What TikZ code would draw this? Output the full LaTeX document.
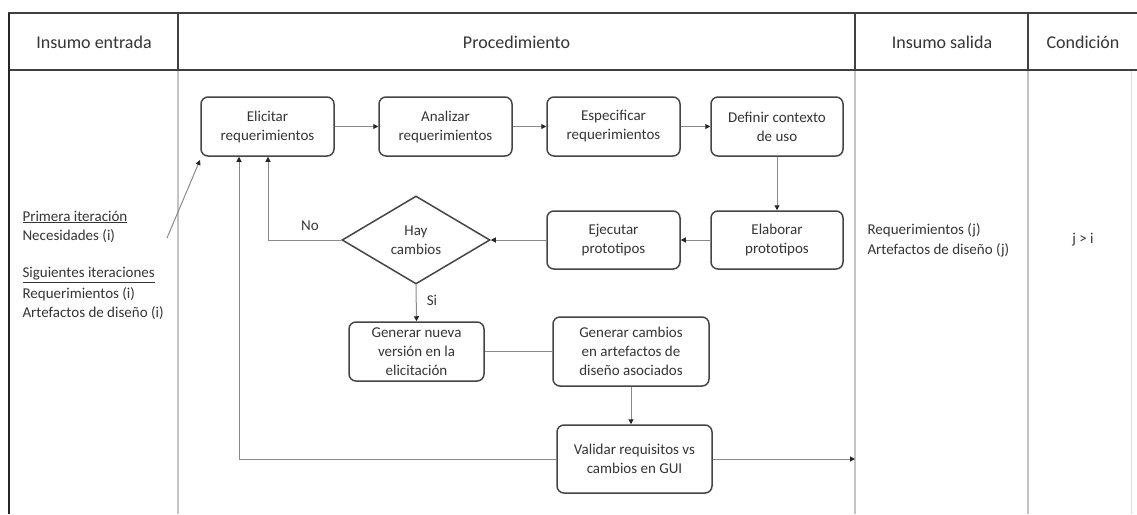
\documentclass[tikz,border=0pt]{standalone}
\usepackage{fontspec}
\setmainfont{Carlito}
\usetikzlibrary{arrows.meta,shapes.geometric}
\definecolor{ink}{HTML}{353535}
\definecolor{boxline}{HTML}{454545}
\definecolor{wire}{HTML}{8A8A8A}
\definecolor{rule}{HTML}{C4C4C4}
\begin{document}
\begin{tikzpicture}[x=1pt,y=-1pt,
  every node/.style={text=ink},
  body/.style={font=\fontsize{15}{19}\selectfont},
  head/.style={font=\fontsize{18}{21}\selectfont},
  stepbox/.style={body,draw=boxline,line width=1.5pt,rounded corners=7pt,
    align=center,inner sep=0pt},
  decision/.style={body,draw=boxline,line width=1.5pt,diamond,inner sep=0pt,
    minimum width=148pt,minimum height=88pt,align=center},
  flow/.style={draw=wire,line width=1pt,-{Triangle[length=5pt,width=5pt,color=black!85]}},
  link/.style={draw=wire,line width=1pt},
  headline/.style={draw=black!75,line width=1.6pt},
  colline/.style={draw=rule,line width=2pt}]
\useasboundingbox (0,0) rectangle (1137,514);
\fill[white] (0,0) rectangle (1137,514);

% table frame
\draw[colline] (178,70) -- (178,514);
\draw[colline] (855,70) -- (855,514);
\draw[colline] (1028,70) -- (1028,514);
\draw[draw=rule!60,line width=1pt] (1131,70) -- (1131,514);
\draw[headline] (8,13) -- (1137,13);
\draw[headline] (8,70) -- (1137,70);
\draw[headline] (178,13) -- (178,70);
\draw[headline] (855,13) -- (855,70);
\draw[headline] (1028,13) -- (1028,70);
\draw[draw=black!85,line width=2pt] (9,13) -- (9,514);

% column headings
\node[head] (h1) at (94,42) {Insumo entrada};
\node[head] (h2) at (516.5,42) {Procedimiento};
\node[head] (h3) at (942,42) {Insumo salida};
\node[head] (h4) at (1083,42) {Condición};

% input column
\node[body,anchor=west] (in1) at (19,217) {\underline{Primera iteración}};
\node[body,anchor=west] (in2) at (19,236) {Necesidades (i)};
\node[body,anchor=west] (in3) at (19,275) {\underline{Siguientes iteraciones}};
\node[body,anchor=west] (in4) at (19,294) {Requerimientos (i)};
\node[body,anchor=west] (in5) at (19,313) {Artefactos de diseño (i)};

% output and condition columns
\node[body,anchor=west] (out1) at (864,230) {Requerimientos (j)};
\node[body,anchor=west] (out2) at (864,250) {Artefactos de diseño (j)};
\node[body] (cond) at (1083,240) {j > i};

% procedure steps
\node[stepbox,minimum width=133pt,minimum height=59pt] (eli) at (267.5,126.5) {Elicitar\\requerimientos};
\node[stepbox,minimum width=133pt,minimum height=59pt] (ana) at (445.5,126.5) {Analizar\\requerimientos};
\node[stepbox,minimum width=133pt,minimum height=59pt] (esp) at (613.5,126.5) {Especificar\\requerimientos};
\node[stepbox,minimum width=132pt,minimum height=59pt] (def) at (777,126.5) {Definir contexto\\de uso};
\node[stepbox,minimum width=132pt,minimum height=58pt] (ela) at (777,240) {Elaborar\\prototipos};
\node[stepbox,minimum width=133pt,minimum height=58pt] (eje) at (613.5,240) {Ejecutar\\prototipos};
\node[decision] (hay) at (416,240) {Hay\\cambios};
\node[stepbox,minimum width=135pt,minimum height=59pt] (gen) at (416.5,351.5) {Generar nueva\\versión en la\\elicitación};
\node[stepbox,minimum width=156pt,minimum height=69pt] (gca) at (631,351.5) {Generar cambios\\en artefactos de\\diseño asociados};
\node[stepbox,minimum width=155pt,minimum height=68pt] (val) at (634.5,459) {Validar requisitos vs\\cambios en GUI};

% helper points for the return paths
\coordinate (inStart) at (167,238);
\coordinate (inEnd) at (200,160);
\coordinate (noX) at (268,0);
\coordinate (backX) at (239,0);
\coordinate (outEnd) at (855,459);

% connectors
\draw[flow] (eli) -- (ana);
\draw[flow] (ana) -- (esp);
\draw[flow] (esp) -- (def);
\draw[flow] (def) -- (ela);
\draw[flow] (ela) -- (eje);
\draw[flow] (eje) -- (hay.east);
\draw[flow] (hay.west) -- (hay.west -| noX) -- (noX |- eli.south);
\node[body] (no) at (310,226) {No};
\draw[flow] (hay.south) -- (gen.north);
\node[body] (si) at (432,300) {Si};
\draw[link] (gen) -- (gca);
\draw[flow] (gca) -- (gca.south |- val.north);
\draw[flow] (val.west) -- (val.west -| backX) -- (backX |- eli.south);
\draw[flow] (val.east) -- (outEnd);
\draw[flow] (inStart) -- (inEnd);
\end{tikzpicture}
\end{document}
